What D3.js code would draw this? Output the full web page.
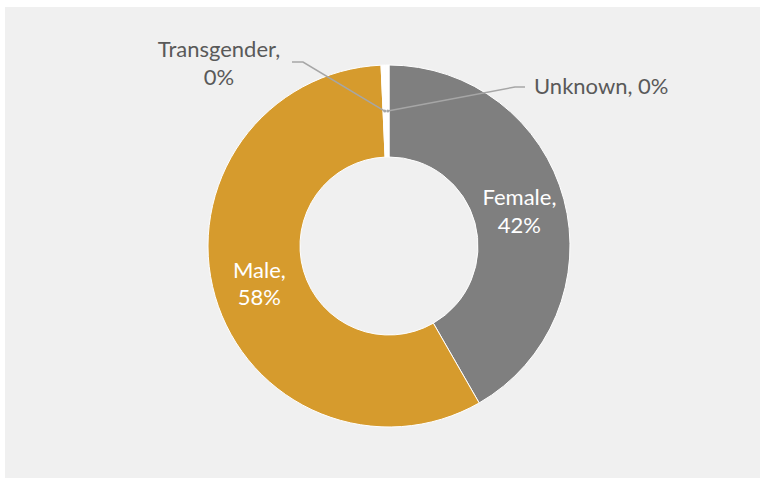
<!DOCTYPE html>
<html>
<head>
<meta charset="utf-8">
<script src="https://cdn.jsdelivr.net/npm/d3@7.9.0/dist/d3.min.js"></script>
<style>
  html, body { margin: 0; padding: 0; background: #ffffff; }
  svg { display: block; font-family: Lato, "Liberation Sans", sans-serif; }
</style>
</head>
<body>
<svg id="chart" width="765" height="483"></svg>
<script>
const categories = ['Female', 'Male', 'Transgender', 'Unknown'];
const values = [41.7, 57.6, 0.4, 0.3];
const pctLabels = ['42%', '58%', '0%', '0%'];
const colors = ['#7f7f7f', '#d69b2d', '#ffffff', '#ffffff'];

const svg = d3.select('#chart');
const cx = 389, cy = 246;
const outerR = 181, innerR = 89, labelR = 135;
const fontSize = 22;

svg.append('rect')
  .attr('x', 5).attr('y', 7)
  .attr('width', 755).attr('height', 471)
  .attr('fill', '#f0f0f0');

const data = categories.map((c, i) => ({ label: c, value: values[i], pct: pctLabels[i], color: colors[i] }));

const pie = d3.pie().value(d => d.value).sort(null);
const arcs = pie(data);

const arc = d3.arc().innerRadius(innerR).outerRadius(outerR);
const labelArc = d3.arc().innerRadius(labelR).outerRadius(labelR);

const g = svg.append('g').attr('transform', `translate(${cx},${cy})`);

g.selectAll('path')
  .data(arcs)
  .enter()
  .append('path')
    .attr('d', arc)
    .attr('fill', d => d.data.color)
    .attr('stroke', '#ffffff')
    .attr('stroke-width', 1);

// inside labels for the big slices
const inside = arcs.filter(d => d.data.value > 5);
inside.forEach(d => {
  const [x, y] = labelArc.centroid(d);
  const t = g.append('text')
    .attr('text-anchor', 'middle')
    .attr('fill', '#ffffff')
    .attr('font-size', fontSize);
  t.append('tspan').attr('x', x).attr('y', y - 6).text(d.data.label + ',');
  t.append('tspan').attr('x', x).attr('y', y + 21.5).text(d.data.pct);
});

// outside labels with leader lines for the tiny slices
const outside = {
  Transgender: { elbow: [303 - cx, 62 - cy], end: [292 - cx, 62 - cy] },
  Unknown: { elbow: [515 - cx, 87 - cy], end: [525 - cx, 87 - cy] }
};

arcs.filter(d => d.data.value <= 5).forEach(d => {
  const o = outside[d.data.label];
  const p = labelArc.centroid(d);
  g.append('polyline')
    .attr('points', [p, o.elbow, o.end].map(q => q.join(',')).join(' '))
    .attr('fill', 'none')
    .attr('stroke', '#a6a6a6')
    .attr('stroke-width', 1.5);
  g.append('circle')
    .attr('cx', p[0]).attr('cy', p[1]).attr('r', 1.5)
    .attr('fill', '#a6a6a6');
});

const tg = g.append('text')
  .attr('text-anchor', 'middle')
  .attr('fill', '#595959')
  .attr('font-size', fontSize);
tg.append('tspan').attr('x', 219 - cx).attr('y', 57 - cy).text('Transgender,');
tg.append('tspan').attr('x', 219 - cx).attr('y', 85 - cy).text(pctLabels[2]);

g.append('text')
  .attr('x', 534 - cx).attr('y', 94 - cy)
  .attr('fill', '#595959')
  .attr('font-size', fontSize)
  .text('Unknown, ' + pctLabels[3]);
</script>
</body>
</html>
